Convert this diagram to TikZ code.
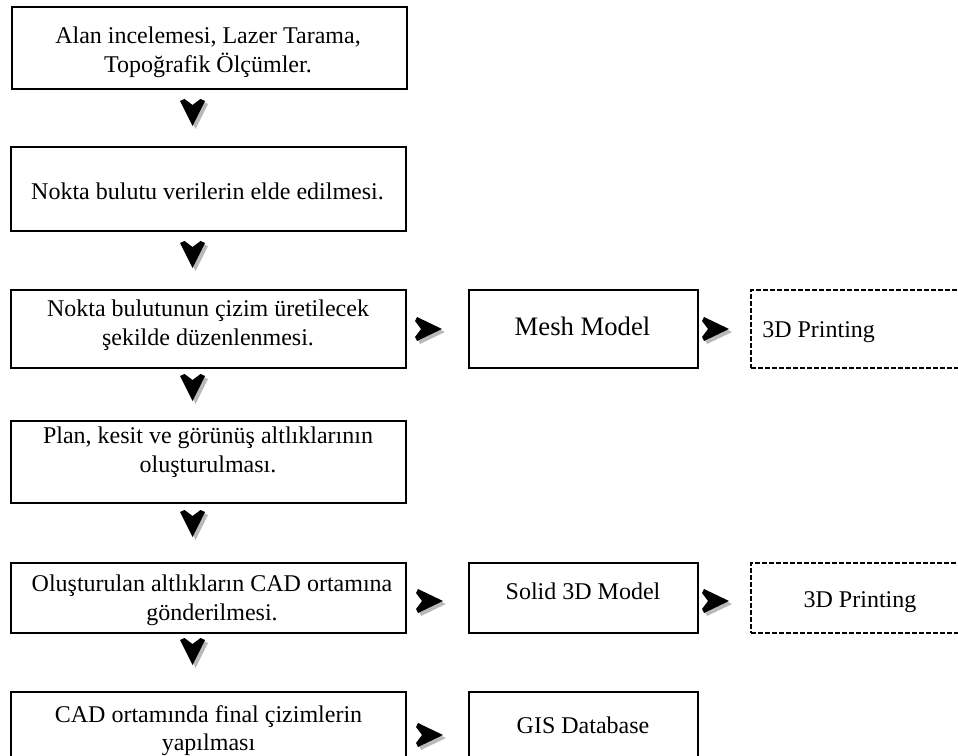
\documentclass[tikz,border=0pt]{standalone}
\usepackage{fontspec}
\setmainfont{Liberation Serif}
\usetikzlibrary{positioning, calc}

\begin{document}
\begin{tikzpicture}[
    x=0.75pt, y=-0.75pt,
    stepbox/.style={draw, line width=1.5pt, inner sep=0pt, minimum width=296.25pt},
    sidebox/.style={draw, line width=1.5pt, inner sep=0pt, minimum width=171.75pt},
    printbox/.style={draw, line width=1.5pt, dash pattern=on 3.75pt off 1.5pt,
      inner sep=0pt, minimum width=163.5pt},
    steptext/.style={align=center, inner sep=0pt, font=\fontsize{18}{21.4}\selectfont},
    downchev/.pic={
      \foreach \d/\col in {3/gray!55, 0/black}
        \fill[\col, shift={(\d,\d)}] (-12.5,2) -- (-8,0) -- (0,6) -- (8,0)
          -- (12.5,2) -- (0,27) -- cycle;
    },
    rightchev/.pic={
      \foreach \d/\col in {3/gray!55, 0/black}
        \fill[\col, shift={(\d,\d)}] (2,-12) -- (0,-8) -- (6,0) -- (0,8)
          -- (2,12) -- (27,0) -- cycle;
    }
  ]
  \useasboundingbox (0,0) rectangle (958,756);
  \clip (0,0) rectangle (958,756);

  % ---- main steps ----
  \node[stepbox, minimum height=61.5pt] (s1) at (209,48)    {};
  \node[stepbox, minimum height=63pt]   (s2) at (208.5,189) {};
  \node[stepbox, minimum height=58.5pt] (s3) at (208.5,329) {};
  \node[stepbox, minimum height=61.5pt] (s4) at (208.5,462) {};
  \node[stepbox, minimum height=52.5pt] (s5) at (208.5,598) {};
  \node[stepbox, minimum height=52.5pt] (s6) at (208.5,727) {};

  \node[steptext, anchor=north] (t1) at (208,27)
    {Alan incelemesi, Lazer Tarama,\\Topoğrafik Ölçümler.};
  \node[steptext, anchor=north] (t2) at (207.5,183)
    {Nokta bulutu verilerin elde edilmesi.};
  \node[steptext, anchor=north] (t3) at (208,300)
    {Nokta bulutunun çizim üretilecek\\şekilde düzenlenmesi.};
  \node[steptext, anchor=north] (t4) at (208,427)
    {Plan, kesit ve görünüş altlıklarının\\oluşturulması.};
  \node[steptext, anchor=north] (t5) at (212,575)
    {Oluşturulan altlıkların CAD ortamına\\gönderilmesi.};
  \node[steptext, anchor=north] (t6) at (208.5,705)
    {CAD ortamında final çizimlerin\\yapılması};

  % ---- side outputs ----
  \node[sidebox, minimum height=58.5pt] (m1) at (583.5,329) {};
  \node[sidebox, minimum height=52.5pt] (d1) at (583.5,598) {};
  \node[sidebox, minimum height=52.5pt] (g1) at (583.5,727) {};
  \node[printbox, minimum height=58.5pt] (p1) at (860,329) {};
  \node[printbox, minimum height=52.5pt] (p2) at (860,598) {};

  \node[steptext, anchor=base, font=\fontsize{20}{24}\selectfont] (tm) at (582.5,335) {Mesh Model};
  \node[steptext, anchor=base] (td) at (583,599) {Solid 3D Model};
  \node[steptext, anchor=base] (tg) at (583,733) {GIS Database};
  \node[steptext, anchor=base west] (tp1) at (762,338) {3D Printing};
  \node[steptext, anchor=base] (tp2) at (860,607) {3D Printing};

  % ---- arrows ----
  \pic at ($(s1.south)+(-16.5,9)$) {downchev};
  \pic at ($(s2.south)+(-16,9)$)   {downchev};
  \pic at ($(s3.south)+(-16,5)$)   {downchev};
  \pic at ($(s4.south)+(-16,6)$)   {downchev};
  \pic at ($(s5.south)+(-16,4)$)   {downchev};

  \pic at ($(s3.east)+(8,0)$) {rightchev};
  \pic at ($(m1.east)+(3,0)$) {rightchev};
  \pic at ($(s5.east)+(9,3)$) {rightchev};
  \pic at ($(d1.east)+(3,3)$) {rightchev};
  \pic at ($(s6.east)+(9,8)$) {rightchev};
\end{tikzpicture}
\end{document}
